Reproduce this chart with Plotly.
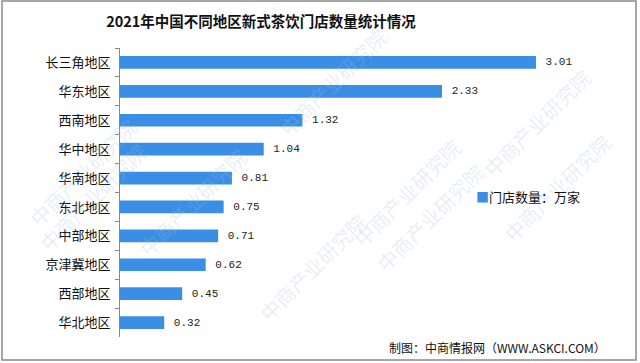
import plotly.graph_objects as go

categories = ["长三角地区", "华东地区", "西南地区", "华中地区", "华南地区",
              "东北地区", "中部地区", "京津冀地区", "西部地区", "华北地区"]
values = [3.01, 2.33, 1.32, 1.04, 0.81, 0.75, 0.71, 0.62, 0.45, 0.32]
series_name = "门店数量：万家"
title_text = "2021年中国不同地区新式茶饮门店数量统计情况"
source_text = "制图：中商情报网（WWW.ASKCI.COM）"
watermark = "中商产业研究院"

W, H = 640, 363
L, R, T, B = 120, 40, 48, 26
pw, ph = W - L - R, H - T - B
bar_color = "#3a8ee6"
font_cjk = "Noto Sans CJK SC, Noto Sans, sans-serif"

fig = go.Figure()
fig.add_trace(go.Bar(
    x=values, y=categories, orientation="h",
    marker=dict(color=bar_color, line=dict(width=0)),
    texttemplate="\u00a0%{x:.2f}", textposition="outside",
    textfont=dict(size=13, color="#222", family="Liberation Mono, DejaVu Sans Mono, monospace"),
    cliponaxis=False, name=series_name, showlegend=False,
))

def px2paper_x(px):
    return (px - L) / pw

def px2paper_y(py):
    return (H - B - py) / ph

annotations = []
wm_positions = [(20, 110), (130, 140), (470, 130), (430, 280), (30, 260), (620, 250), (600, 60), (250, 330), (270, 20)]
for (wx, wy) in wm_positions:
    annotations.append(dict(
        x=px2paper_x(wx), y=px2paper_y(wy), xref="paper", yref="paper",
        text=watermark, showarrow=False, textangle=-45,
        font=dict(size=20, color="rgba(160,190,220,0.26)", family=font_cjk),
    ))
annotations.append(dict(
    x=px2paper_x(474), y=px2paper_y(196), xref="paper", yref="paper",
    xanchor="left", yanchor="middle", showarrow=False,
    text=f"<span style='color:{bar_color}'>■</span>{series_name}",
    font=dict(size=13, color="#111", family=font_cjk),
))
annotations.append(dict(
    x=px2paper_x(608), y=px2paper_y(347), xref="paper", yref="paper",
    xanchor="right", yanchor="middle", showarrow=False,
    text=source_text,
    font=dict(size=12, color="#111", family=font_cjk),
))

fig.update_layout(
    width=W, height=H,
    margin=dict(l=L, r=R, t=T, b=B, pad=0),
    paper_bgcolor="white", plot_bgcolor="white",
    title=dict(text=title_text, x=261 / W, xref="container", xanchor="center",
               y=1 - 22 / H, yref="container", yanchor="middle",
               font=dict(size=14.5, color="#111", family=font_cjk, weight="bold")),
    bargap=0.56,
    xaxis=dict(range=[0, pw / 138.2], visible=False, fixedrange=True),
    yaxis=dict(autorange="reversed", showline=True, linecolor="#888", linewidth=1,
               ticks="outside", tickson="boundaries", ticklen=4, tickcolor="#888",
               tickfont=dict(size=13, color="#111", family=font_cjk),
               showgrid=False, ticksuffix="  ", fixedrange=True),
    annotations=annotations,
    shapes=[dict(type="rect", xref="paper", yref="paper",
                 x0=px2paper_x(2), x1=px2paper_x(636), y0=px2paper_y(360), y1=px2paper_y(1),
                 line=dict(color="#8a8a8a", width=1.5), layer="above")],
)

fig.write_html("out.html", config={"displayModeBar": False},
               post_script="document.body.style.margin='0';")
